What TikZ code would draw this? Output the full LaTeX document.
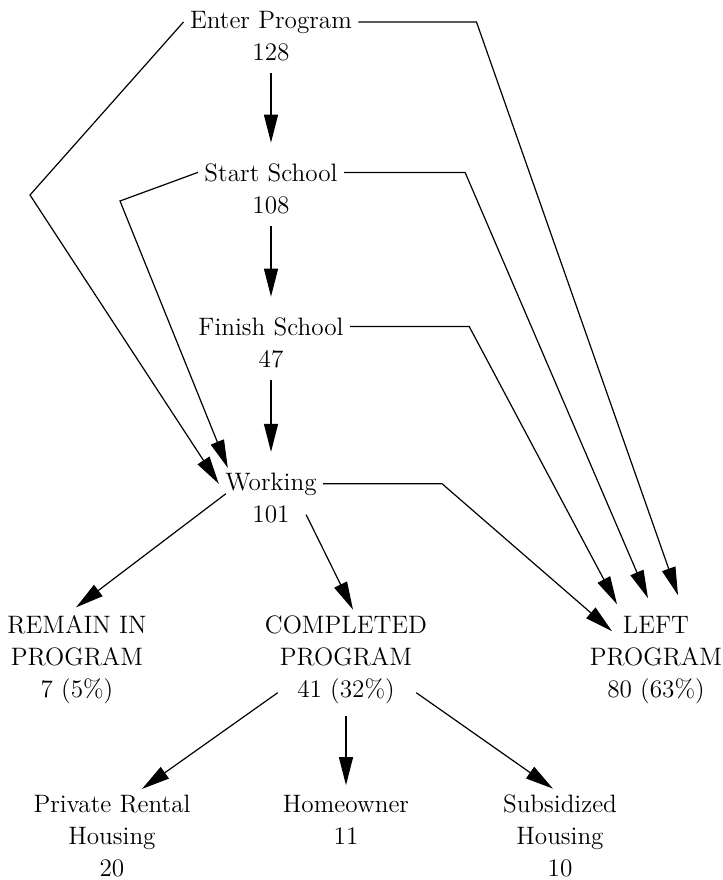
\documentclass[tikz,border=0pt]{standalone}
\usetikzlibrary{arrows.meta}
\begin{document}
\begin{tikzpicture}[x=0.5pt,y=-0.5pt,line width=0.6pt,
    >={Triangle[length=14pt,width=7pt]},
    feed/.style={->,shorten <=5pt,shorten >=9pt}]

  \useasboundingbox (0,0) rectangle (723,880);

  \begin{scope}[every node/.style={anchor=base,align=center,inner xsep=3pt,inner ysep=1pt,
      font=\fontsize{12.6}{16}\selectfont}]
    \node (enter)   at (271,28)  {Enter Program};
    \node (enterN)  at (271,60)  {128};
    \node (start)   at (271,181) {Start School};
    \node (startN)  at (271,213) {108};
    \node (finish)  at (271,335) {Finish School};
    \node (finishN) at (271,367) {47};
    \node (work)    at (271,490) {Working};
    \node (workN)   at (271,522) {101};
    \node (remain)  at (77,697)  {REMAIN IN\\PROGRAM\\7 (5\%)};
    \node (done)    at (346,665) {COMPLETED\\PROGRAM};
    \node (doneN)   at (346,697) {41 (32\%)};
    \node (left)    at (656,697) {LEFT\\PROGRAM\\80 (63\%)};
    \node (rental)  at (112,876) {Private Rental\\Housing\\20};
    \node (owner)   at (346,844) {Homeowner\\11};
    \node (subsid)  at (560,876) {Subsidized\\Housing\\10};
  \end{scope}

  \draw[feed] (enterN.south) -- (start.north);
  \draw[feed] (startN.south) -- (finish.north);
  \draw[feed] (finishN.south) -- (work.north);

  \draw[->] (enter.west) -- (30,195) -- (work.west);
  \draw[->] (start.west) -- (120,201) -- ([shift={(9,-2)}]work.north west);

  \draw[->] (enter.east) -- ++(118,0) -- ([shift={(22,-18)}]left.north);
  \draw[->] (start.east) -- ++(121,0) -- ([shift={(-8,-15)}]left.north);
  \draw[->] (finish.east) -- ++(119,0) -- ([shift={(-39,-9)}]left.north);
  \draw[->] (work.east) -- ++(119,0) -- ([shift={(-44,18)}]left.north);

  \draw[->] ([shift={(7,-4)}]work.south west) -- ([shift={(-1,-5)}]remain.north);
  \draw[->] ([shift={(10,12)}]workN.north east) -- ([shift={(7,-3)}]done.north);

  \draw[->] ([shift={(-13,2)}]doneN.west) -- ([shift={(30,-3)}]rental.north);
  \draw[->,shorten <=5pt,shorten >=3.5pt] (doneN.south) -- (owner.north);
  \draw[->] ([shift={(15,2)}]doneN.east) -- ([shift={(-7,-3)}]subsid.north);

\end{tikzpicture}
\end{document}
